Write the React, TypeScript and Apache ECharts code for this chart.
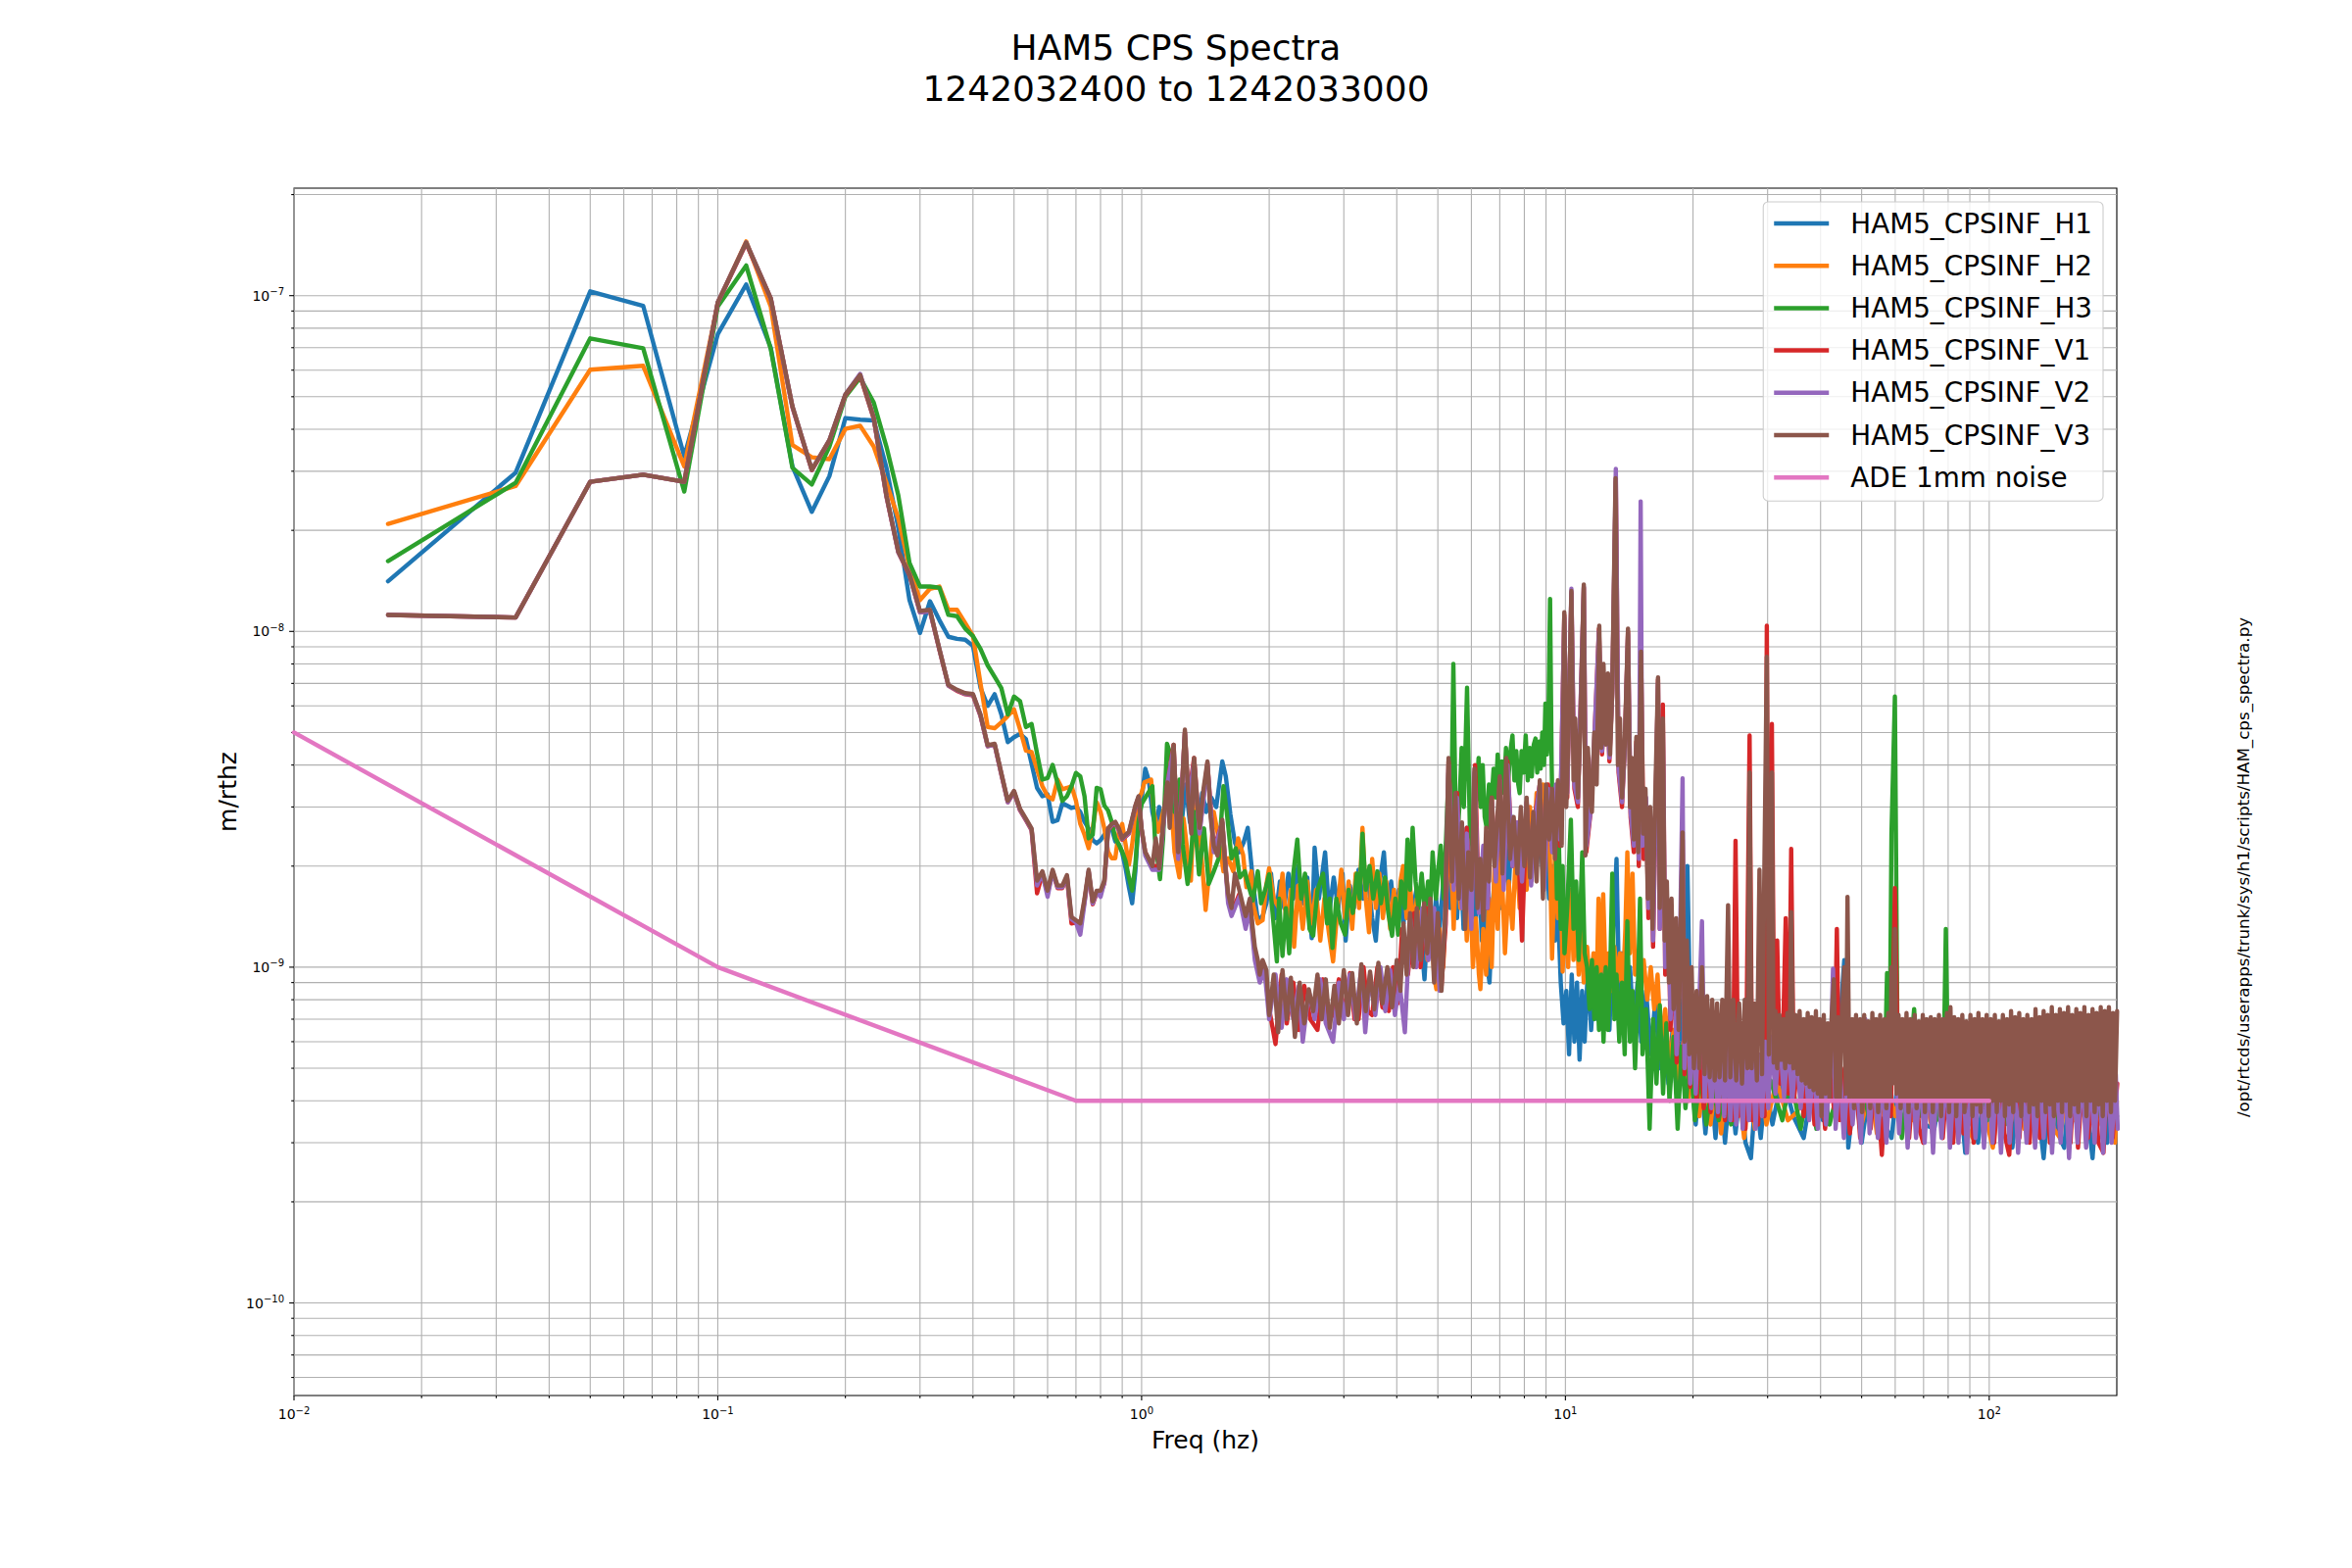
import React, { useEffect, useRef } from "react";
import * as echarts from "echarts";

// ---------- axis ranges / ticks ----------
const X_MIN = 0.01;
const X_MAX = 200;
const Y_MIN = 5.3e-11;
const Y_MAX = 2.09e-7;
const X_DECADES = [0.01, 0.1, 1, 10, 100];
const Y_DECADES = [1e-11, 1e-10, 1e-9, 1e-8, 1e-7];
const MANTISSAS = [2, 3, 4, 5, 6, 7, 8, 9];

const SERIES_NAMES = [
  "HAM5_CPSINF_H1",
  "HAM5_CPSINF_H2",
  "HAM5_CPSINF_H3",
  "HAM5_CPSINF_V1",
  "HAM5_CPSINF_V2",
  "HAM5_CPSINF_V3",
  "ADE 1mm noise",
];
const COLORS = ["#1f77b4", "#ff7f0e", "#2ca02c", "#d62728", "#9467bd", "#8c564b", "#e377c2"];

// ---------- data (values in units of 1e-9 m/rthz) ----------
const NANO = 1e-9;
const LOW_BIN_HZ = 1 / 60; // FFT bin spacing of the low-frequency points

const h1Low = [14.1, 29.7, 103, 93.3, 33.2, 76.8, 108, 70, 31, 22.7, 29, 43.2, 42.7, 42.5, 30.7, 20.3, 12.4, 9.9, 12.3, 10.8, 9.64, 9.5, 9.45, 9.06, 6.8, 6.0, 6.5, 5.66, 4.68, 4.84, 4.95, 4.78, 4.04, 3.42, 3.23, 3.27, 2.71, 2.74, 3.08, 3.03, 2.98, 3.0, 2.9, 2.71, 2.59, 2.39, 2.34, 2.39, 2.48, 2.59, 2.59, 2.37, 2.32, 2.19, 1.97, 1.73, 1.55, 1.93, 2.71, 3.16];
const h2Low = [20.9, 27.1, 60.2, 61.8, 31, 95, 145, 92.9, 35.9, 33, 32.6, 40.1, 41, 35.5, 27.7, 21.7, 15.5, 12.4, 13.4, 13.6, 11.6, 11.6, 10.6, 9.7, 7.0, 5.19, 5.15, 5.36, 5.6, 5.86, 5.1, 4.42, 4.37, 3.88, 3.46, 3.23, 3.16, 3.62, 3.39, 3.42, 3.46, 3.13, 2.67, 2.48, 2.26, 2.59, 3.1, 2.9, 2.59, 2.21, 2.11, 2.11, 2.53, 2.67, 2.32, 2.02, 2.32, 2.77, 3.16, 3.31];
const h3Low = [16.2, 27.7, 74.6, 69.7, 26.1, 92.9, 123, 69.4, 30.7, 27.4, 35.5, 50, 57, 48, 35.5, 25.4, 16, 13.6, 13.6, 13.5, 11.2, 11.1, 10.2, 9.68, 8.87, 7.92, 7.32, 6.78, 5.66, 6.4, 6.2, 5.19, 5.3, 4.33, 3.62, 3.66, 4.0, 3.54, 3.13, 3.23, 3.46, 3.79, 3.7, 3.23, 2.42, 2.48, 3.42, 3.39, 3.03, 2.93, 2.71, 2.42, 2.32, 2.21, 2.07, 1.85, 1.69, 2.02, 2.71, 3.06];
const v1Low = [11.2, 11.0, 27.9, 29.3, 27.9, 95.4, 143, 98, 46.5, 30.2, 37, 50.5, 57.8, 43, 25.2, 17.2, 14.7, 11.4, 11.5, 8.8, 6.9, 6.65, 6.5, 6.45, 5.6, 4.55, 4.6, 3.75, 3.1, 3.32, 2.93, 2.74, 2.56, 1.66, 1.9, 1.66, 1.92, 1.72, 1.72, 1.85, 1.35, 1.36, 1.33, 1.57, 1.92, 1.54, 1.66, 1.66, 1.78, 2.56, 2.64, 2.68, 2.56, 2.4, 2.45, 2.5, 2.74, 3.0, 3.2, 2.56];
const v2Low = [11.2, 11.0, 27.9, 29.3, 27.9, 95.5, 144, 98.1, 46.7, 30.3, 37.1, 50.8, 58.5, 43.2, 25.3, 17.2, 14.8, 11.4, 11.5, 8.85, 6.9, 6.68, 6.52, 6.48, 5.62, 4.55, 4.6, 3.76, 3.1, 3.33, 2.94, 2.75, 2.57, 1.75, 1.9, 1.62, 1.93, 1.73, 1.73, 1.86, 1.39, 1.36, 1.25, 1.55, 1.93, 1.55, 1.67, 1.62, 1.79, 2.57, 2.65, 2.69, 2.57, 2.41, 2.46, 2.51, 2.75, 3.01, 3.21, 2.57];
const v3Low = [11.2, 11.0, 27.9, 29.3, 27.9, 95.6, 144, 98.2, 46.9, 30.3, 37.1, 50.8, 58.1, 43.3, 25.4, 17.3, 14.8, 11.5, 11.6, 8.87, 6.93, 6.7, 6.55, 6.51, 5.66, 4.58, 4.63, 3.79, 3.13, 3.35, 2.96, 2.77, 2.59, 1.81, 1.93, 1.69, 1.95, 1.75, 1.75, 1.88, 1.41, 1.38, 1.35, 1.6, 1.95, 1.57, 1.69, 1.69, 1.81, 2.59, 2.67, 2.71, 2.59, 2.42, 2.48, 2.53, 2.77, 3.03, 3.23, 2.59];

// [frequency Hz, value in 1e-9] above 1 Hz
const h1High = [
  [1.02, 3.9], [1.04, 3.6], [1.06, 2.9], [1.08, 2.6], [1.1, 3.0], [1.12, 2.7], [1.15, 3.3], [1.18, 2.8], [1.21, 3.4], [1.24, 2.6], [1.27, 3.5], [1.3, 2.7], [1.33, 3.2], [1.36, 2.5], [1.39, 3.3], [1.42, 2.9], [1.46, 3.2], [1.5, 3.0], [1.55, 4.1], [1.58, 3.7], [1.62, 2.85], [1.66, 2.35], [1.7, 2.2], [1.74, 2.35], [1.78, 2.6], [1.81, 2.1], [1.84, 1.7], [1.88, 1.38], [1.93, 1.42], [1.97, 1.55],
  [2.02, 1.9], [2.07, 1.4], [2.12, 1.8], [2.17, 1.5], [2.22, 1.9], [2.28, 1.6], [2.34, 2.0], [2.4, 1.55], [2.46, 1.85], [2.52, 1.22], [2.56, 2.27], [2.62, 1.6], [2.71, 2.2], [2.77, 1.45], [2.84, 1.85], [2.91, 1.5], [2.98, 1.9], [3.03, 1.2], [3.1, 1.75], [3.17, 1.5], [3.25, 1.95], [3.33, 1.6], [3.41, 1.9], [3.5, 1.4], [3.57, 1.2], [3.65, 1.8], [3.73, 2.2], [3.8, 1.5], [3.88, 1.8], [3.96, 1.35], [4.05, 1.7], [4.15, 1.35], [4.25, 1.9], [4.35, 1.45], [4.45, 1.7], [4.55, 1.3], [4.65, 0.92], [4.75, 1.5], [4.85, 1.25], [4.95, 1.6], [5.05, 1.3], [5.15, 1.8], [5.25, 2.4], [5.35, 1.5], [5.45, 2.5], [5.55, 1.4], [5.65, 2.2], [5.75, 1.3], [5.85, 2.6], [5.95, 1.6], [6.05, 2.3], [6.15, 1.4], [6.25, 2.0], [6.35, 1.2], [6.45, 1.7], [6.55, 1.0], [6.62, 0.9], [6.75, 1.6], [6.9, 2.3], [7.05, 1.5], [7.2, 2.5], [7.35, 1.7], [7.5, 2.8], [7.65, 1.9], [7.8, 2.6], [7.95, 1.8], [8.1, 2.7], [8.25, 1.9], [8.4, 2.8], [8.55, 2.0], [8.7, 2.5], [8.85, 1.9], [9.0, 2.4], [9.15, 1.6], [9.3, 2.0], [9.45, 1.2], [9.6, 1.5], [9.75, 0.9], [9.9, 0.68], [10.05, 0.85], [10.2, 0.55],
  [10.35, 0.95], [10.5, 0.6], [10.65, 0.9], [10.8, 0.53], [10.95, 0.85], [11.1, 0.6], [11.3, 1.0], [11.5, 0.65], [11.7, 0.95], [11.9, 0.7], [12.1, 1.05], [12.3, 0.7], [12.5, 0.95], [12.7, 0.65], [12.9, 1.1], [13.2, 2.1], [13.4, 0.8], [13.6, 1.1], [13.9, 0.7], [14.2, 1.0], [14.5, 0.65], [14.8, 0.9], [15.1, 0.6], [15.5, 0.85], [15.9, 0.55], [16.3, 0.8], [16.7, 0.5], [17.1, 0.7], [17.5, 0.45], [17.9, 0.65], [18.3, 0.42], [18.8, 0.6], [19.4, 2.0], [19.8, 0.5], [20.3, 0.34], [20.8, 0.5], [21.4, 0.32], [22.0, 0.48], [22.6, 0.31], [23.2, 0.45], [23.8, 0.3], [24.5, 0.46], [25.2, 0.32], [25.9, 0.44], [26.6, 0.3], [27.4, 0.27], [28.1, 0.42], [28.9, 0.31], [29.7, 0.45],
  [30.8, 0.34], [32.5, 0.48], [34.5, 0.36], [36.5, 0.31], [38.5, 0.47], [40.5, 0.35], [43.7, 0.5], [45.5, 1.05], [46.5, 0.29], [48.3, 0.45], [50, 0.3], [52.5, 0.46], [55, 0.36], [58.8, 0.31], [61, 0.47], [64, 0.35], [67, 0.48], [70.5, 0.34], [74.2, 0.33], [78, 0.47], [81, 0.36], [84.5, 0.48], [87.8, 0.28], [91, 0.46], [94.1, 0.3], [98, 0.47], [102, 0.35], [107, 0.48], [113.4, 0.29], [118, 0.46], [123, 0.34], [128, 0.47], [134.4, 0.27], [139, 0.45], [144, 0.33], [150.3, 0.29], [155, 0.46], [161, 0.34], [167, 0.47], [175.3, 0.27], [180, 0.45], [185, 0.33], [189.8, 0.3], [195, 0.46], [200, 0.36],
];

const h2High = [
  [1.015, 3.55], [1.053, 3.62], [1.068, 2.9], [1.094, 2.53], [1.134, 3.03], [1.165, 3.55], [1.196, 2.2], [1.228, 1.85], [1.256, 2.77], [1.307, 1.81], [1.33, 3.16], [1.378, 2.32], [1.416, 1.48], [1.454, 2.11], [1.48, 2.9], [1.52, 2.42], [1.56, 1.93], [1.6, 2.11], [1.646, 1.93], [1.69, 2.42], [1.736, 2.16], [1.767, 1.73], [1.815, 1.93], [1.83, 1.55], [1.88, 1.35], [1.93, 1.38], [1.965, 1.73], [1.999, 1.97], [2.05, 1.6], [2.11, 1.5],
  [2.15, 1.9], [2.2, 1.3], [2.25, 1.7], [2.29, 1.15], [2.34, 1.75], [2.4, 1.3], [2.46, 1.8], [2.52, 1.35], [2.58, 1.7], [2.64, 1.2], [2.7, 1.6], [2.77, 1.25], [2.83, 1.04], [2.9, 1.5], [2.96, 1.95], [3.02, 1.4], [3.08, 1.8], [3.14, 1.3], [3.2, 1.9], [3.26, 1.5], [3.32, 2.6], [3.38, 1.6], [3.44, 1.27], [3.5, 2.1], [3.57, 1.5], [3.64, 1.9], [3.71, 1.4], [3.78, 1.8], [3.86, 1.3], [3.94, 1.7], [4.02, 1.35], [4.08, 1.8], [4.14, 2.0], [4.22, 1.4], [4.3, 1.75], [4.38, 1.3], [4.46, 1.6], [4.55, 1.15], [4.64, 1.5], [4.73, 1.05], [4.82, 1.4], [4.9, 0.95], [4.96, 0.86], [5.05, 1.3], [5.15, 1.0], [5.25, 1.8], [5.35, 2.4], [5.45, 1.3], [5.55, 2.6], [5.65, 1.5], [5.75, 2.2], [5.85, 1.2], [5.95, 1.8], [6.05, 1.0], [6.15, 1.4], [6.25, 0.95], [6.3, 0.86], [6.4, 1.3], [6.5, 0.95], [6.6, 1.6], [6.7, 1.0], [6.8, 2.0], [6.92, 1.3], [7.05, 2.2], [7.2, 1.1], [7.35, 1.8], [7.5, 1.3], [7.65, 2.3], [7.8, 1.5], [7.95, 2.6], [8.1, 1.7], [8.25, 3.0], [8.4, 2.0], [8.55, 3.3], [8.7, 2.2], [8.85, 3.5], [9.0, 2.4], [9.15, 2.8], [9.3, 1.06], [9.45, 2.2], [9.6, 1.4], [9.75, 1.8], [9.85, 0.97], [10.0, 1.5],
  [10.15, 1.0], [10.3, 1.7], [10.45, 1.05], [10.6, 1.5], [10.75, 0.95], [10.9, 1.3], [11.05, 0.9], [11.25, 1.15], [11.45, 0.85], [11.65, 1.1], [11.85, 0.88], [11.97, 1.6], [12.1, 0.9], [12.28, 1.65], [12.45, 0.9], [12.65, 1.1], [12.85, 0.85], [13.05, 1.15], [13.25, 0.9], [13.45, 1.1], [13.65, 0.85], [13.85, 1.3], [14.0, 2.2], [14.2, 1.1], [14.4, 1.9], [14.6, 0.95], [14.8, 1.1], [15.0, 0.85], [15.3, 1.05], [15.6, 0.8], [15.9, 1.0], [16.2, 0.75], [16.5, 0.95], [16.8, 0.6], [17.2, 0.75], [17.6, 0.5], [18.0, 0.65], [18.5, 0.45], [19.0, 0.6], [19.5, 0.4], [20.1, 0.55], [20.7, 0.36], [21.3, 0.5], [22.0, 0.34], [22.7, 0.47], [23.3, 0.32], [24.0, 0.46], [24.8, 0.35], [25.6, 0.45], [26.4, 0.31], [27.2, 0.44], [28.0, 0.33], [28.9, 0.46], [29.8, 0.34],
  [31.5, 0.46], [33.5, 0.35], [35.2, 0.37], [37.5, 0.47], [40, 0.36], [42.5, 0.47], [45, 0.37], [47.5, 0.46], [50, 0.34], [52.5, 0.45], [54.3, 0.32], [57, 0.46], [60, 0.36], [63, 0.47], [66, 0.35], [69.5, 0.46], [73, 0.34], [77, 0.46], [81, 0.35], [85, 0.47], [89, 0.33], [91.5, 0.31], [95, 0.46], [98.5, 0.35], [102, 0.29], [106, 0.45], [111, 0.34], [116, 0.46], [121, 0.33], [126, 0.45], [131, 0.35], [137, 0.46], [142, 0.33], [147, 0.31], [153, 0.46], [159, 0.35], [165, 0.46], [171, 0.33], [178, 0.46], [184, 0.34], [191, 0.45], [198, 0.3], [200, 0.4],
];

const h3High = [
  [1.037, 3.31], [1.06, 3.46], [1.075, 2.42], [1.105, 1.83], [1.124, 2.42], [1.148, 4.63], [1.168, 4.33], [1.196, 2.9], [1.228, 3.62], [1.25, 2.32], [1.284, 1.77], [1.307, 2.11], [1.33, 2.9], [1.366, 1.89], [1.404, 2.59], [1.44, 1.77], [1.48, 1.93], [1.52, 2.11], [1.56, 3.46], [1.588, 2.9], [1.63, 2.11], [1.668, 2.26], [1.705, 1.85], [1.752, 1.93], [1.783, 1.77], [1.83, 1.58], [1.88, 1.93], [1.914, 1.55], [1.965, 1.73], [1.999, 1.89], [2.05, 1.33], [2.085, 1.04],
  [2.11, 1.6], [2.15, 1.08], [2.19, 1.5], [2.23, 1.1], [2.28, 1.9], [2.33, 2.4], [2.38, 1.6], [2.43, 1.9], [2.49, 1.3], [2.54, 1.24], [2.6, 1.7], [2.68, 1.9], [2.74, 1.35], [2.78, 1.6], [2.82, 1.14], [2.88, 1.6], [2.95, 1.35], [3.02, 1.25], [3.08, 1.7], [3.15, 1.45], [3.22, 1.9], [3.27, 1.6], [3.32, 2.5], [3.38, 1.7], [3.45, 2.0], [3.52, 1.6], [3.6, 1.93], [3.67, 1.55], [3.75, 1.85], [3.82, 1.45], [3.9, 1.24], [3.97, 1.6], [4.03, 1.25], [4.1, 1.8], [4.18, 1.5], [4.24, 2.4], [4.3, 1.7], [4.36, 2.6], [4.43, 1.8], [4.5, 1.5], [4.58, 1.9], [4.66, 1.45], [4.74, 1.8], [4.8, 1.5], [4.86, 2.2], [4.95, 1.6], [5.02, 2.0], [5.08, 2.3], [5.16, 1.6], [5.24, 2.6], [5.3, 3.8], [5.37, 2.4], [5.44, 8.0], [5.5, 3.2], [5.55, 2.35], [5.62, 3.0], [5.69, 4.5], [5.76, 3.0], [5.86, 6.8], [5.95, 2.6], [6.07, 2.16], [6.15, 3.1], [6.24, 4.2], [6.31, 3.0], [6.38, 4.0], [6.45, 2.8], [6.52, 2.6], [6.6, 3.5], [6.68, 3.0], [6.77, 3.9], [6.85, 3.2], [6.92, 4.3], [7.0, 3.4], [7.08, 4.1], [7.16, 3.3], [7.24, 4.5], [7.32, 3.5], [7.4, 4.3], [7.5, 4.9], [7.58, 3.6], [7.66, 4.4], [7.74, 3.5], [7.8, 3.3], [7.88, 4.4], [7.97, 3.8], [8.06, 4.9], [8.15, 3.6], [8.24, 4.5], [8.33, 3.7], [8.42, 4.6], [8.5, 4.8], [8.58, 3.8], [8.66, 4.7], [8.74, 3.9], [8.82, 5.0], [8.9, 4.0], [8.97, 6.1], [9.05, 4.3], [9.12, 5.5], [9.2, 12.5], [9.28, 4.0], [9.36, 2.2], [9.45, 3.0], [9.55, 1.6], [9.65, 2.4], [9.75, 1.3], [9.85, 2.0], [9.95, 1.1],
  [10.1, 1.5], [10.3, 2.75], [10.45, 1.3], [10.6, 1.8], [10.75, 1.05], [10.96, 2.2], [11.1, 1.1], [11.25, 1.0], [11.4, 0.75], [11.55, 1.05], [11.7, 0.7], [11.85, 1.0], [12.0, 0.65], [12.15, 0.95], [12.3, 0.6], [12.45, 1.0], [12.6, 0.65], [12.75, 0.95], [12.9, 1.9], [13.05, 0.7], [13.2, 0.95], [13.4, 0.6], [13.6, 0.9], [13.8, 0.55], [14.0, 1.37], [14.2, 0.6], [14.4, 0.85], [14.6, 0.5], [14.8, 0.8], [15.0, 1.6], [15.2, 0.55], [15.5, 0.75], [15.8, 0.33], [16.1, 0.7], [16.4, 0.45], [16.7, 0.77], [17.0, 0.42], [17.3, 0.68], [17.6, 0.4], [18.0, 0.62], [18.4, 0.33], [18.8, 0.58], [19.2, 0.38], [19.7, 0.55], [20.2, 0.35], [20.8, 0.48], [21.5, 0.34], [22.2, 0.46], [23.0, 0.35], [23.8, 0.47], [24.6, 0.34], [25.5, 0.46], [26.4, 0.35], [27.3, 0.45], [28.2, 0.34], [29.1, 0.46],
  [30.5, 0.46], [32.5, 0.35], [34, 0.47], [35.9, 0.33], [37.5, 0.46], [39.1, 0.33], [40.5, 0.46], [42, 0.34], [44.5, 0.46], [47, 0.35], [49.5, 0.47], [52, 0.36], [54.5, 0.46], [56.5, 0.4], [57.4, 0.96], [58.2, 0.5], [58.8, 2.5], [59.9, 6.4], [60.8, 0.5], [62.2, 0.31], [64.5, 0.46], [66.5, 0.75], [68.5, 0.36], [71.5, 0.47], [75, 0.35], [78, 0.47], [79, 1.3], [80, 0.45], [83, 0.35], [87, 0.46], [91, 0.34], [95, 0.46], [99, 0.35], [104, 0.47], [109, 0.34], [114, 0.46], [119, 0.35], [124, 0.47], [130, 0.32], [136, 0.46], [142, 0.34], [148, 0.47], [155, 0.35], [162, 0.46], [169, 0.34], [176, 0.47], [184, 0.35], [192, 0.46], [200, 0.36],
];

const v1High = [
  [1.02, 2.2], [1.06, 2.0], [1.1, 2.0], [1.15, 3.5], [1.19, 4.6], [1.22, 2.15], [1.265, 5.0], [1.29, 3.2], [1.33, 4.2], [1.37, 2.55], [1.43, 4.05], [1.48, 2.25], [1.55, 2.7], [1.6, 1.6], [1.63, 1.45], [1.7, 1.65], [1.76, 1.35], [1.8, 1.55], [1.85, 1.1], [1.9, 0.93], [1.95, 1.0],
  [2.0, 0.75], [2.07, 0.59], [2.14, 0.95], [2.2, 0.68], [2.28, 0.9], [2.35, 0.65], [2.42, 0.88], [2.5, 0.7], [2.6, 0.65], [2.68, 0.92], [2.76, 0.7], [2.83, 0.72], [2.92, 0.92], [3.0, 0.72], [3.1, 0.96], [3.18, 0.7], [3.25, 0.7], [3.34, 1.0], [3.42, 0.74], [3.5, 0.72], [3.6, 1.0], [3.7, 0.76], [3.83, 0.74], [3.92, 1.0], [4.02, 0.78], [4.12, 1.3], [4.25, 0.95], [4.4, 1.45], [4.55, 1.0], [4.7, 1.5], [4.85, 1.1], [5.0, 1.4], [5.1, 0.88], [5.22, 1.35], [5.3, 4.1], [5.45, 1.75], [5.55, 3.3], [5.7, 1.55], [5.85, 2.6], [6.0, 1.4], [6.12, 4.0], [6.25, 1.5], [6.4, 2.2], [6.55, 1.5], [6.7, 3.2], [6.85, 1.9], [7.0, 3.6], [7.15, 1.8], [7.3, 4.1], [7.5, 2.0], [7.7, 2.7], [7.9, 1.2], [8.1, 3.1], [8.3, 1.8], [8.5, 2.9], [8.7, 3.5], [8.9, 1.8], [9.1, 3.5], [9.3, 2.3], [9.5, 3.4], [9.7, 2.3], [9.94, 11.2],
  [10.1, 3.2], [10.33, 13.0], [10.5, 3.4], [10.7, 3.0], [11.05, 13.5], [11.2, 2.2], [11.5, 3.0], [11.7, 4.7], [12.0, 10.2], [12.2, 4.3], [12.5, 7.2], [12.7, 4.1], [12.9, 6.6], [13.15, 28], [13.35, 3.8], [13.6, 3.0], [13.8, 4.5], [14.05, 10.0], [14.25, 2.8], [14.5, 2.2], [14.7, 4.7], [14.9, 2.0], [15.08, 8.5], [15.3, 2.1], [15.5, 3.1], [15.7, 1.4], [15.9, 2.7], [16.1, 1.15], [16.54, 7.2], [16.7, 1.3], [16.98, 6.06], [17.2, 0.95], [17.5, 1.45], [17.7, 0.65], [18.0, 1.15], [18.3, 0.52], [18.6, 0.95], [18.9, 2.4], [19.1, 0.48], [19.4, 0.85], [19.7, 0.44], [20.0, 0.72], [20.4, 0.4], [20.8, 0.62], [21.2, 0.38], [21.6, 0.6], [22.0, 0.37], [22.5, 0.58], [22.9, 0.36], [23.4, 0.55], [23.8, 0.35], [24.3, 0.57], [24.8, 0.35], [25.2, 2.38], [25.6, 0.36], [26.1, 0.55], [26.6, 0.33], [27.2, 4.9], [27.6, 0.35], [28.1, 0.56], [28.5, 0.34], [29.0, 0.55], [29.5, 0.36], [29.87, 10.4], [30.2, 0.5], [30.7, 5.3], [31.1, 0.5], [31.6, 1.2], [32.1, 0.45], [32.6, 0.6], [33.1, 1.4], [33.6, 0.42], [34.1, 2.25], [34.6, 0.4],
  [35.5, 0.55], [36.5, 0.36], [37.6, 0.54], [38.7, 0.34], [39.8, 0.53], [41.0, 0.33], [42.2, 0.52], [43.0, 0.38], [43.7, 1.3], [44.4, 0.35], [45.6, 0.5], [46.9, 0.32], [48.2, 0.5], [49.6, 0.31], [51.0, 0.49], [52.5, 0.33], [54.0, 0.5], [55.8, 0.276], [57.3, 0.5], [58.6, 0.36], [59.9, 1.72], [61.2, 0.36], [62.9, 0.5], [64.7, 0.31], [66.5, 0.49], [68.4, 0.33], [69.9, 0.3], [71.5, 0.5], [73.5, 0.32], [75.6, 0.49], [77.7, 0.31], [79.9, 0.5], [82.2, 0.3], [84.5, 0.49], [86.9, 0.32], [89.4, 0.5], [91.9, 0.3], [94.5, 0.49], [97.2, 0.31], [99.9, 0.5], [102.7, 0.3], [105.6, 0.49], [108.6, 0.32], [111.5, 0.276], [114.5, 0.5], [117.8, 0.31], [121.1, 0.49], [124.5, 0.3], [128.0, 0.5], [131.6, 0.31], [135.3, 0.49], [139.1, 0.3], [143.0, 0.5], [147.1, 0.32], [151.2, 0.49], [155.5, 0.3], [159.0, 0.5], [162.0, 0.29], [166.5, 0.49], [171.2, 0.31], [176.0, 0.5], [181.0, 0.3], [186.0, 0.28], [190.5, 0.49], [195.5, 0.31], [200.5, 0.45],
];

const v2High = [
  [1.02, 2.15], [1.06, 1.95], [1.1, 1.95], [1.15, 3.5], [1.19, 4.5], [1.22, 2.1], [1.265, 5.0], [1.29, 3.1], [1.33, 4.1], [1.37, 2.5], [1.43, 4.0], [1.48, 2.2], [1.55, 2.7], [1.6, 1.55], [1.63, 1.42], [1.7, 1.62], [1.76, 1.3], [1.8, 1.5], [1.85, 1.05], [1.9, 0.9], [1.95, 0.98],
  [2.0, 0.7], [2.07, 0.95], [2.14, 0.66], [2.2, 0.92], [2.28, 0.7], [2.35, 0.88], [2.4, 0.6], [2.48, 0.85], [2.56, 0.7], [2.64, 0.92], [2.72, 0.68], [2.83, 0.6], [2.92, 0.9], [3.0, 0.7], [3.1, 0.95], [3.2, 0.7], [3.3, 1.0], [3.37, 0.64], [3.46, 0.95], [3.56, 0.72], [3.66, 1.0], [3.76, 0.74], [3.86, 0.98], [3.96, 0.72], [4.06, 0.9], [4.18, 0.64], [4.3, 1.4], [4.45, 1.0], [4.6, 1.5], [4.75, 1.05], [4.9, 1.5], [5.05, 0.85], [5.2, 1.35], [5.3, 4.0], [5.45, 1.7], [5.55, 3.2], [5.7, 1.5], [5.85, 2.5], [6.0, 1.3], [6.1, 3.8], [6.25, 1.45], [6.4, 2.3], [6.55, 1.5], [6.7, 3.1], [6.85, 1.8], [7.0, 3.6], [7.15, 1.7], [7.3, 4.0], [7.5, 2.0], [7.7, 2.7], [7.9, 1.8], [8.1, 3.1], [8.3, 1.75], [8.5, 2.8], [8.7, 3.5], [8.9, 1.7], [9.1, 3.4], [9.3, 2.2], [9.5, 3.5], [9.7, 2.4], [9.94, 11.0],
  [10.1, 3.3], [10.33, 13.4], [10.5, 3.5], [10.7, 3.1], [11.05, 13.6], [11.2, 2.3], [11.5, 3.0], [11.7, 4.8], [12.0, 10.0], [12.2, 4.4], [12.5, 7.0], [12.7, 4.2], [12.9, 6.5], [13.15, 30.5], [13.35, 3.9], [13.6, 3.1], [13.8, 4.4], [14.05, 9.8], [14.25, 2.9], [14.5, 2.3], [14.7, 4.6], [14.9, 2.1], [15.05, 24.4], [15.2, 2.3], [15.5, 3.2], [15.7, 1.5], [15.9, 2.8], [16.1, 1.2], [16.54, 7.0], [16.7, 1.3], [16.98, 5.2], [17.2, 1.0], [17.5, 1.5], [17.7, 0.7], [18.0, 1.2], [18.3, 0.55], [18.6, 1.0], [18.9, 3.65], [19.1, 0.5], [19.4, 0.9], [19.7, 0.45], [20.0, 0.75], [20.3, 0.42], [20.6, 0.65], [21.0, 1.37], [21.3, 0.4], [21.7, 0.6], [22.1, 0.38], [22.5, 0.58], [22.9, 0.37], [23.3, 0.56], [23.7, 0.36], [24.1, 0.58], [24.5, 0.35], [24.9, 0.55], [25.3, 0.34], [25.8, 0.56], [26.2, 0.33], [26.7, 0.55], [27.1, 0.35], [27.6, 0.57], [28.1, 0.33], [28.6, 0.55], [29.1, 0.36], [29.6, 0.6], [30.1, 0.38],
  [30.6, 0.62], [31.3, 0.42], [32.0, 0.63], [32.8, 0.41], [33.5, 0.6], [34.3, 0.4], [35.1, 0.58], [35.9, 0.38], [36.7, 0.55], [37.6, 0.35], [38.5, 0.53], [39.4, 0.33], [40.3, 0.52], [41.2, 0.34], [42.2, 0.5], [42.8, 0.99], [43.4, 0.33], [44.4, 0.5], [45.4, 0.31], [46.5, 0.5], [47.6, 0.34], [48.7, 0.48], [49.8, 0.3], [51.0, 0.7], [52.2, 0.32], [53.4, 0.5], [54.6, 0.31], [55.9, 0.48], [57.2, 0.3], [58.5, 0.5], [59.9, 0.55], [61.3, 0.32], [62.7, 0.49], [64.2, 0.29], [65.7, 0.5], [67.2, 0.31], [68.8, 0.48], [70.4, 0.3], [72.0, 0.5], [73.7, 0.28], [75.4, 0.49], [77.2, 0.31], [79.0, 0.5], [80.8, 0.29], [82.7, 0.48], [84.6, 0.3], [86.6, 0.5], [88.6, 0.28], [90.7, 0.49], [92.8, 0.31], [95.0, 0.5], [97.2, 0.29], [99.5, 0.48], [101.8, 0.3], [104.2, 0.5], [106.6, 0.28], [109.1, 0.49], [111.7, 0.3], [114.3, 0.5], [117.0, 0.28], [119.7, 0.48], [122.5, 0.3], [125.4, 0.5], [128.3, 0.29], [131.3, 0.48], [134.4, 0.31], [137.5, 0.5], [140.7, 0.28], [144.0, 0.49], [147.4, 0.3], [150.8, 0.5], [154.3, 0.27], [157.9, 0.48], [161.6, 0.3], [165.4, 0.5], [169.3, 0.29], [173.2, 0.48], [177.3, 0.3], [181.4, 0.5], [185.6, 0.28], [190.0, 0.49], [194.4, 0.3], [198.9, 0.48], [201, 0.33],
];

const v3High = [
  [1.02, 2.2], [1.04, 2.1], [1.06, 2.0], [1.08, 2.42], [1.1, 1.97], [1.13, 2.9], [1.15, 3.55], [1.165, 2.6], [1.19, 4.6], [1.22, 2.2], [1.24, 3.0], [1.265, 5.1], [1.29, 3.16], [1.31, 2.5], [1.33, 4.2], [1.355, 3.0], [1.37, 2.6], [1.4, 3.4], [1.43, 4.1], [1.455, 2.8], [1.48, 2.3], [1.51, 2.15], [1.55, 2.75], [1.575, 2.0], [1.6, 1.66], [1.63, 1.5], [1.66, 1.9], [1.7, 1.7], [1.73, 1.55], [1.76, 1.42], [1.8, 1.6], [1.83, 1.3], [1.85, 1.15], [1.88, 1.05], [1.9, 0.95], [1.93, 1.05],
  [1.97, 0.98], [2.0, 0.72], [2.05, 0.95], [2.1, 0.64], [2.15, 0.98], [2.2, 0.7], [2.25, 0.93], [2.3, 0.62], [2.36, 0.9], [2.42, 0.68], [2.48, 0.86], [2.54, 0.74], [2.6, 0.95], [2.66, 0.7], [2.72, 0.92], [2.78, 0.66], [2.85, 0.88], [2.92, 0.68], [3.0, 0.98], [3.07, 0.72], [3.14, 0.96], [3.22, 0.68], [3.3, 1.02], [3.38, 0.74], [3.46, 0.97], [3.54, 0.75], [3.62, 1.03], [3.7, 0.78], [3.8, 1.0], [3.9, 0.76], [4.0, 1.05], [4.08, 0.85], [4.15, 1.35], [4.22, 0.95], [4.3, 1.45], [4.38, 1.0], [4.46, 1.5], [4.55, 1.05], [4.64, 1.55], [4.72, 1.1], [4.8, 1.6], [4.9, 0.9], [5.0, 1.45], [5.1, 0.85], [5.2, 1.4], [5.3, 4.2], [5.4, 1.8], [5.5, 3.3], [5.6, 1.6], [5.7, 2.7], [5.8, 1.3], [5.9, 2.2], [6.0, 1.7], [6.1, 3.9], [6.2, 1.5], [6.3, 2.1], [6.4, 1.38], [6.5, 2.6], [6.6, 1.8], [6.7, 3.2], [6.8, 2.0], [7.0, 3.7], [7.1, 1.9], [7.25, 4.2], [7.4, 2.1], [7.55, 2.8], [7.7, 1.9], [7.85, 3.0], [8.0, 2.0], [8.1, 3.2], [8.25, 1.85], [8.4, 2.9], [8.55, 1.8], [8.7, 3.6], [8.85, 1.6], [9.0, 3.5], [9.15, 2.4], [9.3, 3.4], [9.45, 2.1], [9.6, 3.6], [9.8, 2.3],
  [9.94, 11.4], [10.05, 3.0], [10.15, 4.6], [10.33, 13.2], [10.45, 3.6], [10.55, 5.5], [10.7, 3.2], [10.85, 5.2], [11.05, 13.8], [11.15, 2.15], [11.3, 4.5], [11.45, 3.1], [11.55, 2.9], [11.7, 5.0], [11.85, 3.5], [12.02, 10.4], [12.15, 4.5], [12.3, 8.0], [12.45, 4.6], [12.6, 7.5], [12.75, 4.3], [12.9, 6.8], [13.13, 28.6], [13.3, 4.0], [13.45, 5.5], [13.6, 3.2], [13.8, 4.6], [14.05, 10.2], [14.2, 3.0], [14.35, 4.2], [14.5, 2.4], [14.7, 4.85], [14.85, 2.2], [15.08, 8.7], [15.25, 2.5], [15.45, 3.4], [15.65, 1.6], [15.85, 3.0], [16.05, 1.3], [16.25, 2.8], [16.54, 7.3], [16.7, 1.5], [16.98, 5.5], [17.15, 1.2], [17.35, 1.8], [17.55, 0.9], [17.8, 1.6], [18.0, 0.75], [18.25, 1.4], [18.5, 0.65], [18.9, 2.52], [19.1, 0.6], [19.35, 1.2], [19.6, 0.55], [19.85, 1.0], [20.1, 0.5], [20.4, 0.85], [20.7, 0.5], [21.0, 1.0], [21.3, 0.48], [21.6, 0.82], [21.9, 0.47], [22.2, 0.8], [22.5, 0.46], [22.8, 0.78], [23.1, 0.47], [23.45, 0.8], [23.8, 0.46], [24.2, 1.53], [24.5, 0.47], [24.9, 0.8], [25.3, 0.46], [25.7, 0.78], [26.1, 0.45], [26.5, 0.8], [26.9, 0.5], [27.2, 3.8], [27.5, 0.5], [27.9, 0.78], [28.3, 0.46], [28.7, 1.95], [29.1, 0.48], [29.87, 8.4],
  [30.2, 0.55], [30.7, 3.8], [31.0, 0.52], [31.3, 0.74], [31.6, 0.5], [32.0, 0.72], [32.3, 0.53], [32.7, 0.7], [33.0, 0.5], [33.4, 0.73], [33.8, 0.52], [34.1, 1.46], [34.5, 0.5], [34.9, 0.72], [35.3, 0.48], [35.7, 0.74], [36.1, 0.46], [36.5, 0.7], [36.9, 0.45], [37.3, 0.73], [37.7, 0.44], [38.1, 0.71], [38.5, 0.43], [39.0, 0.74], [39.4, 0.42], [39.8, 0.7], [40.2, 0.36], [40.7, 0.72], [41.1, 0.42], [41.6, 0.68], [42.0, 0.4], [42.5, 0.72], [43.0, 0.92], [43.5, 0.41], [44.0, 0.71], [44.4, 0.4], [44.9, 0.69], [45.5, 1.0], [45.9, 0.42], [46.3, 1.62], [46.8, 0.4], [47.5, 0.7], [48.0, 0.38], [48.5, 0.72], [49.0, 0.4], [49.6, 0.7], [50.1, 0.37], [50.7, 0.72], [51.2, 0.41], [51.8, 0.69], [52.4, 0.38], [53.0, 0.73], [53.5, 0.4], [54.1, 0.7], [54.7, 0.37], [55.3, 0.72], [55.9, 0.4], [56.6, 0.7], [57.2, 0.38], [57.8, 0.73], [58.4, 0.41], [58.8, 1.0], [59.1, 0.45], [59.9, 1.3], [60.4, 0.42], [61.1, 0.72], [61.8, 0.38], [62.4, 0.7], [63.1, 0.4], [63.8, 0.73], [64.5, 0.37], [65.2, 0.7], [66.0, 0.4], [66.7, 0.72], [67.4, 0.38], [68.2, 0.69], [68.9, 0.41], [69.7, 0.72], [70.5, 0.37], [71.2, 0.7], [72.0, 0.4], [72.8, 0.71], [73.6, 0.37], [74.4, 0.7], [75.3, 0.41], [76.1, 0.72], [77.0, 0.36], [77.8, 0.7], [78.7, 0.4], [79.5, 0.73], [80.4, 0.37], [81.0, 0.76], [81.8, 0.4], [82.7, 0.71], [83.6, 0.36], [84.5, 0.7], [85.5, 0.4], [86.4, 0.72], [87.4, 0.37], [88.3, 0.69], [89.3, 0.4], [90.3, 0.72], [91.3, 0.36], [92.3, 0.7], [93.3, 0.39], [94.3, 0.73], [95.4, 0.37], [96.4, 0.7], [97.5, 0.4], [98.6, 0.72], [99.7, 0.36], [100.8, 0.7], [101.9, 0.4], [103.1, 0.72], [104.2, 0.37], [105.4, 0.69], [106.5, 0.4], [107.7, 0.72], [108.9, 0.36], [110.1, 0.7], [111.4, 0.39], [112.6, 0.74], [113.9, 0.37], [115.1, 0.71], [116.4, 0.4], [117.7, 0.73], [119.0, 0.36], [120.3, 0.7], [121.7, 0.4], [123.0, 0.72], [124.4, 0.37], [125.8, 0.7], [127.2, 0.39], [128.6, 0.75], [130.0, 0.36], [131.5, 0.71], [132.9, 0.4], [134.4, 0.74], [135.9, 0.37], [137.4, 0.72], [139.0, 0.39], [140.5, 0.76], [142.1, 0.36], [143.6, 0.72], [145.2, 0.4], [146.8, 0.75], [148.5, 0.37], [150.1, 0.73], [151.8, 0.4], [153.5, 0.76], [155.2, 0.36], [156.9, 0.72], [158.7, 0.39], [160.5, 0.75], [162.2, 0.37], [164.0, 0.73], [165.9, 0.4], [167.7, 0.76], [169.6, 0.36], [171.5, 0.72], [173.4, 0.4], [175.3, 0.75], [177.3, 0.37], [179.2, 0.73], [181.2, 0.39], [183.3, 0.76], [185.3, 0.36], [187.4, 0.74], [189.5, 0.4], [191.6, 0.76], [193.7, 0.37], [195.9, 0.73], [198.1, 0.4], [200.3, 0.74],
];

const adeNoise = [[0.01, 5.0], [0.1, 1.0], [0.7, 0.4], [100, 0.4]];

// ---------- helpers ----------
function buildSeries(low: number[], high: number[][]) {
  const a = low.map((v, i) => [(i + 1) * LOW_BIN_HZ, v * NANO]);
  const b = high.map(([f, v]) => [f, v * NANO]);
  return a.concat(b);
}

function powLabel(v: number) {
  const e = Math.round(Math.log10(v));
  return "{a|10}{b|" + (e < 0 ? "\u2212" : "") + Math.abs(e) + "}";
}

function buildGridData() {
  const items: number[][] = [];
  X_DECADES.forEach((d) => items.push([d, 1e-9, 0]));
  X_DECADES.forEach((d) =>
    MANTISSAS.forEach((m) => {
      const v = d * m;
      if (v > X_MIN && v < X_MAX) items.push([v, 1e-9, 1]);
    })
  );
  Y_DECADES.forEach((d) => {
    if (d > Y_MIN && d < Y_MAX) items.push([1, d, 2]);
  });
  Y_DECADES.forEach((d) =>
    MANTISSAS.forEach((m) => {
      const v = d * m;
      if (v > Y_MIN && v < Y_MAX) items.push([1, v, 3]);
    })
  );
  return items;
}

const FONT = "DejaVu Sans";

export default function App() {
  const ref = useRef<HTMLDivElement>(null);

  useEffect(() => {
    if (!ref.current) return;
    const chart = echarts.init(ref.current, null, { renderer: "svg" });

    const dataSets = [
      buildSeries(h1Low, h1High),
      buildSeries(h2Low, h2High),
      buildSeries(h3Low, h3High),
      buildSeries(v1Low, v1High),
      buildSeries(v2Low, v2High),
      buildSeries(v3Low, v3High),
      adeNoise.map(([f, v]) => [f, v * NANO]),
    ];

    const lineSeries = dataSets.map((d, i) => ({
      type: "line",
      name: SERIES_NAMES[i],
      data: d,
      showSymbol: false,
      symbol: "none",
      silent: true,
      z: 3,
      clip: true,
      color: COLORS[i],
      itemStyle: { color: COLORS[i] },
      lineStyle: { width: 4.4, color: COLORS[i], join: "round", cap: "round" },
      emphasis: { disabled: true },
    }));

    const gridSeries = {
      type: "custom",
      name: "__grid",
      silent: true,
      z: 1,
      clip: false,
      data: buildGridData(),
      encode: { x: 0, y: 1 },
      renderItem: (params: any, api: any) => {
        const kind = api.value(2);
        const cs = params.coordSys;
        const gridStyle = { stroke: "#b0b0b0", lineWidth: 1.1 };
        const tickStyle = { stroke: "#000", lineWidth: 1.1 };
        if (kind < 2) {
          const x = api.coord([api.value(0), 1e-9])[0];
          const len = kind === 0 ? 4.9 : 2.8;
          const bottom = cs.y + cs.height;
          return {
            type: "group",
            children: [
              { type: "line", shape: { x1: x, y1: cs.y, x2: x, y2: bottom }, style: gridStyle },
              { type: "line", shape: { x1: x, y1: bottom, x2: x, y2: bottom + len }, style: tickStyle },
            ],
          };
        }
        const y = api.coord([1, api.value(1)])[1];
        const len = kind === 2 ? 4.9 : 2.8;
        return {
          type: "group",
          children: [
            { type: "line", shape: { x1: cs.x, y1: y, x2: cs.x + cs.width, y2: y }, style: gridStyle },
            { type: "line", shape: { x1: cs.x - len, y1: y, x2: cs.x, y2: y }, style: tickStyle },
          ],
        };
      },
    };

    const richLabel = {
      a: { fontSize: 14, fontFamily: FONT, color: "#000" },
      b: { fontSize: 10, fontFamily: FONT, color: "#000", padding: [0, 0, 8, 0] },
    };

    const option: any = {
      animation: false,
      backgroundColor: "#ffffff",
      textStyle: { fontFamily: FONT },
      grid: {
        left: 300,
        top: 192,
        width: 1860,
        height: 1232,
        show: true,
        borderColor: "#000",
        borderWidth: 1.1,
        backgroundColor: "transparent",
        containLabel: false,
      },
      xAxis: {
        type: "log",
        logBase: 10,
        min: X_MIN,
        max: X_MAX,
        axisLine: { show: false },
        axisTick: { show: false },
        splitLine: { show: false },
        minorTick: { show: false },
        minorSplitLine: { show: false },
        axisLabel: { margin: 10, formatter: powLabel, rich: richLabel, showMaxLabel: false, color: "#000" },
      },
      yAxis: {
        type: "log",
        logBase: 10,
        min: Y_MIN,
        max: Y_MAX,
        axisLine: { show: false },
        axisTick: { show: false },
        splitLine: { show: false },
        minorTick: { show: false },
        minorSplitLine: { show: false },
        axisLabel: {
          margin: 10,
          formatter: powLabel,
          rich: richLabel,
          showMinLabel: false,
          showMaxLabel: false,
          color: "#000",
        },
      },
      legend: {
        data: SERIES_NAMES,
        orient: "vertical",
        right: 254,
        top: 206,
        itemWidth: 56,
        itemHeight: 4.5,
        itemGap: 11.2,
        icon: "rect",
        padding: [6, 11, 8, 11],
        backgroundColor: "rgba(255,255,255,0.8)",
        borderColor: "#cccccc",
        borderWidth: 1.1,
        borderRadius: 5,
        selectedMode: false,
        textStyle: { fontSize: 27.8, lineHeight: 32, color: "#000", fontFamily: FONT, padding: [0, 0, 0, 17] },
      },
      graphic: [
        {
          type: "text",
          x: 1200,
          y: 48,
          silent: true,
          style: { text: "HAM5 CPS Spectra", fontSize: 36, fontFamily: FONT, fill: "#000", align: "center", verticalAlign: "middle" },
        },
        {
          type: "text",
          x: 1200,
          y: 90,
          silent: true,
          style: { text: "1242032400 to 1242033000", fontSize: 36, fontFamily: FONT, fill: "#000", align: "center", verticalAlign: "middle" },
        },
        {
          type: "text",
          x: 1230,
          y: 1469,
          silent: true,
          style: { text: "Freq (hz)", fontSize: 25, fontFamily: FONT, fill: "#000", align: "center", verticalAlign: "middle" },
        },
        {
          type: "text",
          x: 232,
          y: 808,
          rotation: Math.PI / 2,
          silent: true,
          style: { text: "m/rthz", fontSize: 25, fontFamily: FONT, fill: "#000", align: "center", verticalAlign: "middle" },
        },
        {
          type: "text",
          x: 2289,
          y: 885,
          rotation: Math.PI / 2,
          silent: true,
          style: {
            text: "/opt/rtcds/userapps/trunk/sys/h1/scripts/HAM_cps_spectra.py",
            fontSize: 16.7,
            fontFamily: FONT,
            fill: "#000",
            align: "center",
            verticalAlign: "middle",
          },
        },
      ],
      series: [gridSeries, ...lineSeries],
    };

    chart.setOption(option);
    return () => {
      chart.dispose();
    };
  }, []);

  return (
    <div
      ref={ref}
      style={{ position: "fixed", left: 0, top: 0, width: 2400, height: 1600, background: "#fff" }}
    />
  );
}
